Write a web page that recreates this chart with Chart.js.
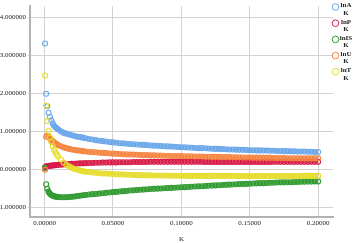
<!DOCTYPE html>
<html>
<head>
<meta charset="utf-8">
<script src="https://cdn.jsdelivr.net/npm/chart.js@4.4.1/dist/chart.umd.min.js"></script>
<style>
  html, body { margin: 0; padding: 0; background: #fff; }
  #chart { display: block; }
</style>
</head>
<body>
<canvas id="chart" width="354" height="243"></canvas>
<script>
// K values (x axis)
const kValues = [
  0.0004, 0.0012, 0.002, 0.003, 0.004, 0.005, 0.006, 0.007, 0.008, 0.009,
  0.010, 0.012, 0.014, 0.016, 0.018, 0.020, 0.022, 0.024, 0.026, 0.028, 0.030,
  0.0325, 0.035, 0.0375, 0.04, 0.0425, 0.045, 0.0475, 0.05, 0.0525, 0.055,
  0.0575, 0.06, 0.0625, 0.065, 0.0675, 0.07, 0.0725, 0.075, 0.0775, 0.08,
  0.0825, 0.085, 0.0875, 0.09, 0.0925, 0.095, 0.0975, 0.1, 0.1025, 0.105,
  0.1075, 0.11, 0.1125, 0.115, 0.1175, 0.12, 0.1225, 0.125, 0.1275, 0.13,
  0.1325, 0.135, 0.1375, 0.14, 0.1425, 0.145, 0.1475, 0.15, 0.1525, 0.155,
  0.1575, 0.16, 0.1625, 0.165, 0.1675, 0.17, 0.1725, 0.175, 0.1775, 0.18,
  0.1825, 0.185, 0.1875, 0.19, 0.1925, 0.195, 0.1975, 0.2
];

const lnA = [
  3.31, 1.99, 1.66, 1.49, 1.38, 1.29, 1.21, 1.15, 1.11, 1.08,
  1.05, 1.00, 0.96, 0.94, 0.92, 0.90, 0.88, 0.86, 0.85, 0.835, 0.82,
  0.80, 0.785, 0.77, 0.755, 0.745, 0.735, 0.72, 0.71, 0.70, 0.69,
  0.685, 0.675, 0.67, 0.66, 0.655, 0.65, 0.645, 0.64, 0.63, 0.625,
  0.62, 0.615, 0.61, 0.605, 0.60, 0.595, 0.59, 0.585, 0.58, 0.575,
  0.57, 0.565, 0.56, 0.56, 0.555, 0.55, 0.545, 0.54, 0.54, 0.535,
  0.53, 0.525, 0.525, 0.52, 0.515, 0.515, 0.51, 0.505, 0.505, 0.50,
  0.50, 0.495, 0.495, 0.49, 0.49, 0.485, 0.485, 0.48, 0.48, 0.475,
  0.475, 0.47, 0.47, 0.47, 0.465, 0.465, 0.46, 0.46
];

const lnP = [
  0.05, 0.08, 0.085, 0.09, 0.095, 0.10, 0.105, 0.11, 0.11, 0.115,
  0.12, 0.125, 0.13, 0.135, 0.14, 0.145, 0.15, 0.155, 0.16, 0.16, 0.165,
  0.17, 0.17, 0.175, 0.175, 0.18, 0.18, 0.185, 0.185, 0.185, 0.19,
  0.19, 0.19, 0.19, 0.195, 0.195, 0.195, 0.195, 0.195, 0.20, 0.20,
  0.20, 0.20, 0.20, 0.20, 0.20, 0.20, 0.20, 0.20, 0.20, 0.20,
  0.20, 0.20, 0.20, 0.20, 0.198, 0.198, 0.198, 0.198, 0.198, 0.198,
  0.198, 0.198, 0.198, 0.198, 0.198, 0.198, 0.198, 0.198, 0.198, 0.198,
  0.198, 0.198, 0.198, 0.198, 0.20, 0.20, 0.20, 0.20, 0.20, 0.20,
  0.20, 0.20, 0.20, 0.20, 0.20, 0.20, 0.20, 0.20
];

const lnIS = [
  0.04, -0.39, -0.51, -0.59, -0.64, -0.67, -0.69, -0.705, -0.715, -0.72,
  -0.725, -0.73, -0.73, -0.73, -0.725, -0.72, -0.71, -0.70, -0.69, -0.68, -0.67,
  -0.66, -0.65, -0.645, -0.635, -0.625, -0.615, -0.605, -0.595, -0.59, -0.58,
  -0.57, -0.565, -0.555, -0.55, -0.54, -0.535, -0.53, -0.52, -0.515, -0.51,
  -0.505, -0.50, -0.495, -0.49, -0.485, -0.48, -0.475, -0.47, -0.465, -0.46,
  -0.455, -0.45, -0.445, -0.44, -0.435, -0.43, -0.425, -0.42, -0.415, -0.41,
  -0.405, -0.40, -0.395, -0.39, -0.385, -0.385, -0.38, -0.375, -0.37, -0.365,
  -0.36, -0.36, -0.355, -0.35, -0.35, -0.345, -0.34, -0.34, -0.335, -0.335,
  -0.33, -0.33, -0.325, -0.325, -0.32, -0.32, -0.315, -0.315
];

const lnU = [
  -0.01, 0.86, 0.89, 0.86, 0.81, 0.77, 0.74, 0.71, 0.68, 0.66,
  0.64, 0.61, 0.58, 0.56, 0.54, 0.525, 0.51, 0.50, 0.49, 0.48, 0.47,
  0.46, 0.455, 0.45, 0.44, 0.435, 0.43, 0.42, 0.415, 0.41, 0.405,
  0.40, 0.395, 0.39, 0.39, 0.385, 0.38, 0.375, 0.375, 0.37, 0.37,
  0.365, 0.365, 0.36, 0.36, 0.355, 0.355, 0.35, 0.35, 0.345, 0.345,
  0.345, 0.34, 0.34, 0.34, 0.335, 0.335, 0.33, 0.33, 0.33, 0.325,
  0.325, 0.325, 0.32, 0.32, 0.32, 0.315, 0.315, 0.315, 0.31, 0.31,
  0.31, 0.305, 0.305, 0.305, 0.30, 0.30, 0.30, 0.30, 0.295, 0.295,
  0.295, 0.295, 0.29, 0.29, 0.29, 0.29, 0.29, 0.29
];

const lnT = [
  2.47, 1.68, 1.27, 1.01, 0.84, 0.72, 0.61, 0.52, 0.45, 0.39,
  0.34, 0.26, 0.18, 0.12, 0.08, 0.04, 0.01, -0.01, -0.03, -0.045, -0.06,
  -0.07, -0.08, -0.09, -0.10, -0.105, -0.11, -0.115, -0.12, -0.125, -0.13,
  -0.135, -0.14, -0.14, -0.145, -0.15, -0.15, -0.155, -0.155, -0.155, -0.16,
  -0.16, -0.16, -0.16, -0.165, -0.165, -0.165, -0.165, -0.165, -0.17, -0.17,
  -0.17, -0.17, -0.17, -0.17, -0.17, -0.17, -0.17, -0.17, -0.17, -0.17,
  -0.17, -0.17, -0.17, -0.175, -0.175, -0.175, -0.175, -0.175, -0.175, -0.175,
  -0.175, -0.175, -0.175, -0.175, -0.175, -0.175, -0.175, -0.175, -0.175, -0.175,
  -0.175, -0.175, -0.17, -0.17, -0.17, -0.17, -0.17, -0.17
];

const seriesLabels = ['lnA\nK', 'lnP\nK', 'lnIS\nK', 'lnU\nK', 'lnT\nK'];
const seriesValues = [lnA, lnP, lnIS, lnU, lnT];
const seriesColors = ['#6aa6ea', '#d81b4a', '#2f9a2f', '#f5843f', '#e6dc2a'];
const bandColors = ['rgba(106,166,234,0.8)', 'rgba(216,27,74,0.8)', 'rgba(47,154,47,0.8)',
                    'rgba(245,132,63,0.8)', 'rgba(230,220,42,0.8)'];
// index where the markers start overlapping into a solid band
const bandStart = [6, 1, 2, 2, 13];

const FONT = '"Liberation Serif", "DejaVu Serif", serif';

function toPoints(vals) {
  return kValues.map((k, i) => ({ x: k, y: vals[i] }));
}

// legend drawn on the right, two-line labels like the original
const sideLegend = {
  id: 'sideLegend',
  afterDraw(chart) {
    const ctx = chart.ctx;
    ctx.save();
    chart.data.datasets.forEach((ds, i) => {
      const cy = 7 + i * 16.2;
      ctx.beginPath();
      ctx.arc(335.5, cy, 3.3, 0, Math.PI * 2);
      ctx.strokeStyle = ds.pointBorderColor;
      ctx.lineWidth = 1;
      ctx.stroke();
      ctx.fillStyle = '#222';
      ctx.font = 'bold 7px ' + FONT;
      ctx.textAlign = 'center';
      ctx.textBaseline = 'middle';
      const lines = ds.label.split('\n');
      ctx.fillText(lines[0], 346, cy - 1.5);
      ctx.fillText(lines[1], 346, cy + 6);
    });
    ctx.restore();
  }
};

const datasets = seriesValues.map((vals, i) => ({
  label: seriesLabels[i],
  data: toPoints(vals),
  showLine: true,
  borderWidth: 4,
  borderColor: bandColors[i],
  segment: {
    borderColor: c => c.p0DataIndex < bandStart[i] ? 'rgba(0,0,0,0)' : bandColors[i]
  },
  pointBorderColor: seriesColors[i],
  pointBackgroundColor: 'rgba(0,0,0,0)',
  pointRadius: 2.5,
  pointBorderWidth: 1.1,
  order: seriesValues.length - i
}));

new Chart(document.getElementById('chart').getContext('2d'), {
  type: 'scatter',
  data: { datasets: datasets },
  options: {
    responsive: false,
    animation: false,
    layout: { padding: { top: 0, right: 21, left: 0, bottom: 0 } },
    plugins: {
      legend: { display: false },
      tooltip: { enabled: false }
    },
    scales: {
      x: {
        type: 'linear',
        min: -0.0106,
        max: 0.2109,
        afterFit(scale) { scale.height = 26; },
        ticks: {
          stepSize: 0.05,
          includeBounds: false,
          maxRotation: 0,
          padding: 2,
          color: '#222',
          font: { family: FONT, size: 7 },
          callback: v => Number(v).toFixed(5)
        },
        grid: { color: '#d2d2d2', lineWidth: 1, drawTicks: false },
        border: { color: '#b2b2b2', width: 2 },
        title: {
          display: true,
          text: 'K',
          color: '#222',
          font: { family: FONT, size: 7 },
          padding: { top: 6, bottom: 0 }
        }
      },
      y: {
        type: 'linear',
        min: -1.25,
        max: 4.29,
        afterFit(scale) { scale.width = 30; },
        ticks: {
          stepSize: 1,
          includeBounds: false,
          padding: 2,
          color: '#222',
          font: { family: FONT, size: 7 },
          callback: v => Number(v).toFixed(6)
        },
        grid: { color: '#d2d2d2', lineWidth: 1, tickLength: 2 },
        border: { color: '#b2b2b2', width: 2 }
      }
    }
  },
  plugins: [sideLegend]
});
</script>
</body>
</html>
